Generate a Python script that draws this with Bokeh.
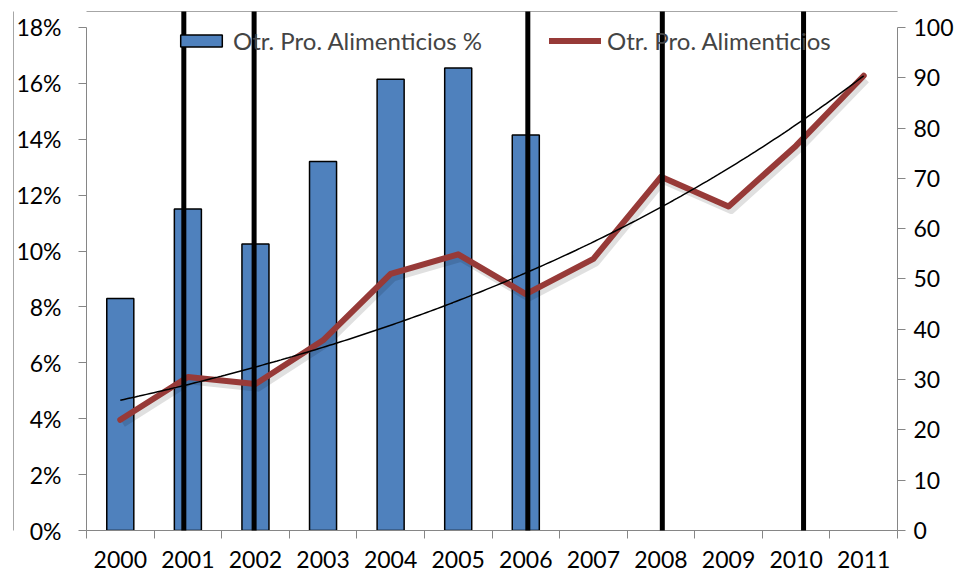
import numpy as np
from bokeh.plotting import figure
from bokeh.models import Range1d, LinearAxis, FixedTicker, Legend, LegendItem
from bokeh.embed import file_html
from bokeh.resources import INLINE

years = ["2000", "2001", "2002", "2003", "2004", "2005", "2006",
         "2007", "2008", "2009", "2010", "2011"]
bar_pct = [8.3, 11.5, 10.25, 13.2, 16.15, 16.55, 14.15]          # 2000-2006, %
line_vals = [22, 30.5, 29.1, 37.8, 51, 54.9, 47, 54, 70.3, 64.4, 76.5, 90.4]
vline_pos = [0.94, 1.98, 6.03, 8.02, 10.11]
left_ticks = list(range(0, 19, 2))
right_ticks = list(range(0, 101, 10))

FONT = "Lato"
FS = "23px"
AX = "#868686"

x = np.arange(len(years))
b, a = np.polyfit(x, np.log(line_vals), 1)
trend_x = np.linspace(0, len(years) - 1, 200)
trend_y = np.exp(a + b * trend_x)

y_top = 18.57
p = figure(width=956, height=577, output_backend="svg", toolbar_location=None,
           x_range=Range1d(-0.5, len(years) - 0.5), y_range=Range1d(0, y_top),
           min_border_left=86, min_border_right=56, min_border_top=11,
           min_border_bottom=47)
p.extra_y_ranges = {"r": Range1d(0, 100 * y_top / 18)}
p.outline_line_color = None
p.xgrid.visible = False
p.ygrid.visible = False

# x axis
xa = p.xaxis[0]
xa.ticker = FixedTicker(ticks=list(x), minor_ticks=[i - 0.5 for i in range(len(years) + 1)])
xa.major_label_overrides = {int(i): years[i] for i in x}
xa.major_tick_line_color = None
xa.minor_tick_line_color = AX
xa.minor_tick_out = 8
xa.minor_tick_in = 0
xa.axis_line_color = AX
xa.major_label_standoff = 12
xa.major_label_text_font = FONT
xa.major_label_text_font_size = FS
xa.major_label_text_color = "black"

# left axis
ya = p.yaxis[0]
ya.ticker = FixedTicker(ticks=left_ticks, minor_ticks=[])
ya.major_label_overrides = {t: f"{t}%" for t in left_ticks}
ya.bounds = (0, 18)
ya.axis_line_color = AX
ya.major_tick_line_color = AX
ya.major_tick_out = 8
ya.major_tick_in = 0
ya.major_label_standoff = 17
ya.major_label_text_font = FONT
ya.major_label_text_font_size = FS
ya.major_label_text_color = "black"

# right axis
ra = LinearAxis(y_range_name="r", ticker=FixedTicker(ticks=right_ticks, minor_ticks=[]))
ra.bounds = (0, 100)
ra.axis_line_color = AX
ra.major_tick_line_color = AX
ra.major_tick_out = 8
ra.major_tick_in = 0
ra.major_label_standoff = 8
ra.major_label_text_font = FONT
ra.major_label_text_font_size = FS
ra.major_label_text_color = "black"
p.add_layout(ra, "right")

# chart-area border (left and top edges), drawn as bare axes
for side in ("left", "above"):
    bx = LinearAxis(ticker=FixedTicker(ticks=[], minor_ticks=[]),
                    axis_line_color="#a6a6a6", axis_line_width=1,
                    major_label_text_font_size="0px", major_tick_line_color=None,
                    minor_tick_line_color=None, major_label_standoff=0)
    p.add_layout(bx, side)

bars = p.vbar(x=x[:len(bar_pct)], top=bar_pct, width=0.4, fill_color="#4F81BD",
              line_color="black", line_width=1.5)
# soft shadow under the line
p.line(x + 0.04, [v - 0.8 for v in line_vals], y_range_name="r", color="#000000",
       alpha=0.12, line_width=7, line_join="round")
ln = p.line(x, line_vals, y_range_name="r", color="#973A38", line_width=6,
            line_join="round", line_cap="round")
p.line(trend_x, trend_y, y_range_name="r", color="black", line_width=1.5)
p.segment(x0=vline_pos, y0=0, x1=vline_pos, y1=y_top, line_width=5,
          color="black", level="overlay")

def mk_legend(item, loc):
    lg = Legend(items=[item], location=loc, orientation="horizontal",
                glyph_width=52, glyph_height=15, label_standoff=6, padding=0,
                margin=0, spacing=0, border_line_color=None,
                background_fill_alpha=0, label_text_font=FONT,
                label_text_font_size="24px", label_height=28)
    p.add_layout(lg, "center")

mk_legend(LegendItem(label="Otr. Pro. Alimenticios %", renderers=[bars]), (89, 475))
mk_legend(LegendItem(label="Otr. Pro. Alimenticios", renderers=[ln]), (463, 475))

open("out.html", "w").write(file_html(p, INLINE))
